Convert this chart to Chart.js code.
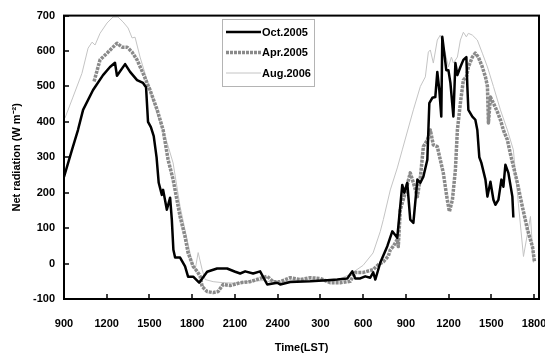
<!DOCTYPE html>
<html>
<head>
<meta charset="utf-8">
<script src="https://cdn.jsdelivr.net/npm/chart.js@4/dist/chart.umd.min.js"></script>
<style>
  html, body { margin: 0; padding: 0; background: #fff; }
  #wrap { position: absolute; left: 0; top: 0; width: 545px; height: 357px; }
</style>
</head>
<body>
<div id="wrap"><canvas id="myChart"></canvas></div>
<script>
// time in hours from 0:00 of the first day (9 = 900, 24 = 2400, 33 = 900 next day)
var octHours = [9.0, 9.56, 9.98, 10.34, 11.04, 11.74, 12.23, 12.58, 12.72, 13.29, 13.64, 14.13, 14.55, 14.76, 14.9, 15.1, 15.3, 15.5, 15.65, 15.87, 15.96, 16.22, 16.45, 16.57, 16.68, 16.8, 17.15, 17.5, 17.71, 18.07, 18.49, 19.05, 19.75, 20.45, 21.02, 21.37, 21.72, 22.28, 22.77, 23.27, 23.97, 24.18, 24.88, 26.29, 27.48, 28.19, 28.89, 29.24, 29.45, 29.8, 30.15, 30.5, 30.71, 30.86, 31.21, 31.7, 32.05, 32.4, 32.75, 32.89, 33.1, 33.31, 33.53, 33.81, 34.02, 34.23, 34.51, 34.65, 34.86, 35.07, 35.21, 35.35, 35.49, 35.56, 35.7, 35.84, 35.99, 36.13, 36.34, 36.48, 36.62, 36.83, 37.04, 37.25, 37.32, 37.39, 37.67, 37.88, 38.02, 38.16, 38.3, 38.59, 38.73, 38.94, 39.15, 39.29, 39.5, 39.71, 39.85, 39.99, 40.2, 40.48, 40.55]
var octValues = [245, 321, 377, 434, 490, 532, 555, 567, 530, 563, 541, 518, 510, 498, 400, 385, 360, 300, 228, 194, 208, 152, 186, 124, 39, 17, 17, -8, -37, -37, -54, -23, -14, -14, -23, -28, -22, -28, -22, -59, -54, -59, -52, -50, -47, -45, -42, -22, -42, -42, -36, -40, -25, -45, 3, 49, 91, 73, 222, 200, 228, 124, 115, 237, 228, 245, 293, 453, 468, 470, 541, 490, 415, 640, 594, 546, 546, 510, 415, 566, 532, 555, 575, 583, 500, 434, 415, 406, 377, 300, 285, 237, 189, 231, 180, 166, 180, 237, 217, 279, 256, 189, 130]

var aprHours = [11.11, 11.53, 12.02, 12.44, 12.72, 13.08, 13.43, 13.78, 14.13, 14.55, 15.04, 15.54, 15.96, 16.31, 16.66, 17.15, 17.5, 17.71, 18.07, 18.35, 18.56, 18.7, 19.05, 19.47, 19.82, 20.17, 20.67, 21.37, 22.07, 22.77, 23.27, 23.69, 24.18, 24.88, 25.58, 26.29, 26.99, 27.69, 28.4, 29.1, 29.45, 30.01, 30.71, 31.07, 31.42, 31.77, 31.91, 32.12, 32.4, 32.47, 32.61, 32.96, 33.31, 33.53, 33.81, 34.02, 34.23, 34.51, 34.72, 34.93, 35.21, 35.42, 35.63, 35.91, 36.06, 36.27, 36.48, 36.62, 36.83, 37.04, 37.25, 37.39, 37.67, 37.88, 38.09, 38.37, 38.59, 38.73, 38.8, 38.94, 39.15, 39.43, 39.64, 39.85, 40.13, 40.34, 40.83, 41.18, 41.54, 41.89, 42.03]
var aprValues = [514, 575, 594, 611, 622, 611, 611, 597, 575, 537, 490, 434, 377, 293, 237, 133, 76, 31, -8, -22, -36, -65, -79, -82, -79, -59, -62, -54, -51, -42, -36, -51, -51, -40, -45, -40, -42, -54, -54, -50, -25, -25, -17, -3, 5, 21, 39, 49, 68, 48, 152, 200, 256, 228, 189, 242, 330, 349, 377, 335, 330, 293, 256, 180, 147, 180, 265, 377, 453, 518, 527, 555, 583, 594, 583, 555, 527, 500, 397, 470, 453, 428, 406, 377, 349, 310, 228, 161, 96, 48, 6]

var augHours = [9.07, 9.63, 10.26, 10.69, 10.97, 11.18, 11.53, 12.02, 12.44, 12.79, 13.15, 13.5, 13.78, 13.99, 14.34, 14.83, 15.25, 15.75, 16.24, 16.66, 17.15, 17.64, 18.0, 18.21, 18.42, 18.7, 18.91, 19.47, 20.17, 21.0, 22.0, 23.0, 24.0, 25.0, 26.0, 27.0, 28.0, 29.1, 30.0, 30.7, 31.2, 31.42, 31.91, 32.4, 32.75, 33.53, 34.02, 34.37, 34.58, 34.72, 34.93, 35.21, 35.42, 35.77, 35.99, 36.2, 36.34, 36.62, 36.83, 37.04, 37.25, 37.39, 37.67, 38.02, 38.37, 38.73, 39.15, 39.64, 40.13, 40.55, 40.9, 41.26, 41.75, 41.96]
var augValues = [411, 470, 537, 608, 625, 617, 650, 679, 696, 696, 682, 665, 637, 639, 583, 518, 462, 397, 341, 284, 161, 68, 3, -17, 31, -17, -45, -51, -54, -55, -50, -48, -55, -48, -46, -48, -50, -30, -5, 30, 90, 124, 208, 270, 321, 434, 500, 527, 597, 603, 566, 631, 645, 594, 555, 583, 566, 583, 631, 653, 640, 650, 645, 631, 594, 555, 500, 434, 377, 321, 170, 20, 133, 3]

var seriesNames = ["Oct.2005", "Apr.2005", "Aug.2006"]
var hourTicks = [9, 12, 15, 18, 21, 24, 27, 30, 33, 36, 39, 42]
var valueTicks = [-100, 0, 100, 200, 300, 400, 500, 600, 700]

function points(hours, values) {
    var out = []
    for (var i = 0; i < hours.length; i++) out.push({x: hours[i], y: values[i]})
    return out
}

var FONT = "'Liberation Sans', Arial, sans-serif"

// box round the plot area, with short tick marks pointing inwards
var frame = {
    id: 'frame',
    afterDraw: function(chart) {
        var a = chart.chartArea, ctx = chart.ctx
        var sx = chart.scales.x, sy = chart.scales.y
        ctx.save()
        ctx.strokeStyle = '#000'
        ctx.lineWidth = 1.5
        ctx.beginPath()
        hourTicks.forEach(function(v) {
            var px = Math.round(sx.getPixelForValue(v))
            ctx.moveTo(px, a.bottom)
            ctx.lineTo(px, a.bottom - 5)
        })
        valueTicks.forEach(function(v) {
            var py = Math.round(sy.getPixelForValue(v))
            ctx.moveTo(a.left, py)
            ctx.lineTo(a.left + 5, py)
        })
        ctx.stroke()
        ctx.lineWidth = 2
        ctx.strokeRect(a.left, a.top, a.right - a.left, a.bottom - a.top)
        ctx.restore()
    }
}

// legend box inside the plot
var boxLegend = {
    id: 'boxLegend',
    afterDraw: function(chart) {
        var ctx = chart.ctx
        var x0 = 222, y0 = 19, w = 92, h = 67
        ctx.save()
        ctx.fillStyle = '#fff'
        ctx.fillRect(x0, y0, w, h)
        ctx.strokeStyle = '#b4b4b4'
        ctx.lineWidth = 1
        ctx.strokeRect(x0 + 0.5, y0 + 0.5, w, h)
        ctx.font = 'bold 11px ' + FONT
        ctx.textBaseline = 'middle'
        ctx.fillStyle = '#000'
        chart.data.datasets.forEach(function(ds, i) {
            var y = y0 + 13 + i * 20.5
            ctx.beginPath()
            ctx.strokeStyle = ds.borderColor
            ctx.lineWidth = ds.borderWidth
            ctx.setLineDash(ds.borderDash || [])
            ctx.moveTo(x0 + 4, y)
            ctx.lineTo(x0 + 39, y)
            ctx.stroke()
            ctx.setLineDash([])
            ctx.fillText(ds.label, x0 + 40, y + 0.5)
        })
        ctx.restore()
    }
}

var ctx = document.getElementById('myChart').getContext('2d')
var chart = new Chart(ctx, {
    type: 'line',
    data: {
        datasets: [
            {
                label: seriesNames[0],
                data: points(octHours, octValues),
                borderColor: '#000000',
                borderWidth: 2.5
            },
            {
                label: seriesNames[1],
                data: points(aprHours, aprValues),
                borderColor: '#8a8a8a',
                borderWidth: 3.5,
                borderDash: [3, 1]
            },
            {
                label: seriesNames[2],
                data: points(augHours, augValues),
                borderColor: '#c4c4c4',
                borderWidth: 1
            }
        ]
    },
    options: {
        responsive: true,
        maintainAspectRatio: false,
        devicePixelRatio: 1,
        animation: false,
        layout: { padding: { left: 0, top: 15, right: 6, bottom: 0 } },
        elements: {
            point: { radius: 0 },
            line: { tension: 0, borderJoinStyle: 'round' }
        },
        plugins: {
            legend: { display: false },
            tooltip: { enabled: false }
        },
        scales: {
            x: {
                type: 'linear',
                min: 9,
                max: 42.35,
                afterBuildTicks: function(scale) {
                    scale.ticks = hourTicks.map(function(v) { return {value: v} })
                },
                afterFit: function(scale) {
                    scale.height = 58
                    scale.paddingLeft = 0
                    scale.paddingRight = 0
                },
                grid: { display: false, drawTicks: false },
                border: { display: false },
                ticks: {
                    padding: 18,
                    maxRotation: 0,
                    autoSkip: false,
                    color: '#000',
                    font: { family: FONT, size: 11, weight: 'bold' },
                    callback: function(v) {
                        var h = v % 24
                        if (h === 0) h = 24
                        return h + '00'
                    }
                },
                title: {
                    display: true,
                    text: 'Time(LST)',
                    color: '#000',
                    font: { family: FONT, size: 11, weight: 'bold' },
                    padding: { top: 0, bottom: 2 }
                }
            },
            y: {
                min: -100,
                max: 700,
                afterFit: function(scale) { scale.width = 64 },
                grid: { display: false, drawTicks: false },
                border: { display: false },
                ticks: {
                    stepSize: 100,
                    padding: 9,
                    color: '#000',
                    font: { family: FONT, size: 11, weight: 'bold' }
                },
                title: {
                    display: true,
                    text: 'Net radiation (W m\u207B\u00B2)',
                    color: '#000',
                    font: { family: FONT, size: 11, weight: 'bold' },
                    padding: { top: 10, bottom: 0 }
                }
            }
        }
    },
    plugins: [frame, boxLegend]
})
</script>
</body>
</html>
